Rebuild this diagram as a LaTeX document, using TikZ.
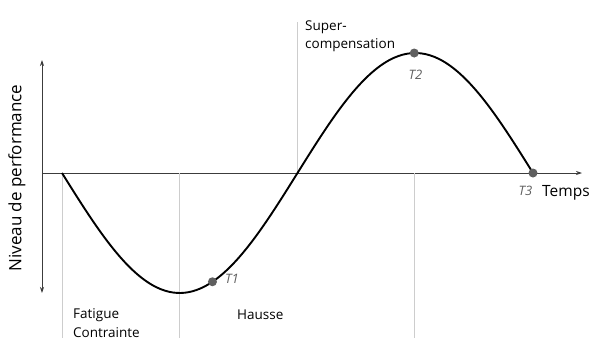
\documentclass[tikz,border=0pt]{standalone}
\usepackage{fontspec}
\setmainfont{Open Sans}
\usepackage{tikz}
\usetikzlibrary{arrows.meta, positioning, calc}
\definecolor{axisgray}{RGB}{60, 60, 60}
\definecolor{guidegray}{RGB}{205, 205, 205}
\definecolor{pointgray}{RGB}{95, 95, 95}

\begin{document}
\begin{tikzpicture}[x=1pt, y=1pt, >={Stealth[length=6pt, width=4pt]},
    guide/.style={guidegray, line width=0.8pt},
    timelabel/.style={pointgray, font=\fontsize{13}{15}\selectfont\itshape, inner sep=0pt},
    phase/.style={font=\fontsize{13.5}{18.5}\selectfont, align=left, inner sep=0pt, anchor=west}]
    \useasboundingbox (-42,-165) rectangle (553,173);
    % axes
    \coordinate (O) at (0,0);
    \coordinate (ytop) at (0,113);
    \coordinate (ybot) at (0,-120);
    \coordinate (xend) at (540,0);
    \draw[<->, axisgray, line width=0.8pt] (ybot) -- (ytop);
    \draw[->, axisgray, line width=0.8pt] (O) -- (xend);
    % key points of the curve
    \coordinate (start) at (20,0);
    \coordinate (low) at (137.75,-120);
    \coordinate (cross) at (255.5,0);
    \coordinate (T1) at ({20+1.30833*115}, {-120*sin(115)});
    \coordinate (T2) at (372.25,120);
    \coordinate (T3) at (491,0);
    % guides
    \draw[guide] (start) -- ++(0,-165);
    \draw[guide] (low |- O) -- ++(0,-165);
    \draw[guide] (cross) -- ++(0,151);
    \draw[guide] (T2 |- O) -- ++(0,-165);
    % curve
    \draw[line width=1.9pt] plot[domain=0:360, samples=120, smooth] ({20+1.30833*\x}, {-120*sin(\x)});
    \foreach \p in {T1, T2, T3}
        \fill[pointgray] (\p) circle (4.5);
    % labels
    \node[rotate=90, font=\fontsize{17}{20}\selectfont] (ylabel) at (-25,-5) {Niveau de performance};
    \node[anchor=west, font=\fontsize{15.5}{18}\selectfont, inner sep=0pt] (temps) at (500,-19.5) {Temps};
    \node[timelabel] (t1lab) at (190,-106) {T1};
    \node[timelabel] (t2lab) at (373.5,98) {T2};
    \node[timelabel] (t3lab) at (483.5,-17.5) {T3};
    \node[phase] (super) at (263,137) {Super-\\compensation};
    \node[phase] (fatigue) at (31,-150) {Fatigue\\Contrainte};
    \node[phase] (hausse) at (195,-142) {Hausse};
\end{tikzpicture}
\end{document}
